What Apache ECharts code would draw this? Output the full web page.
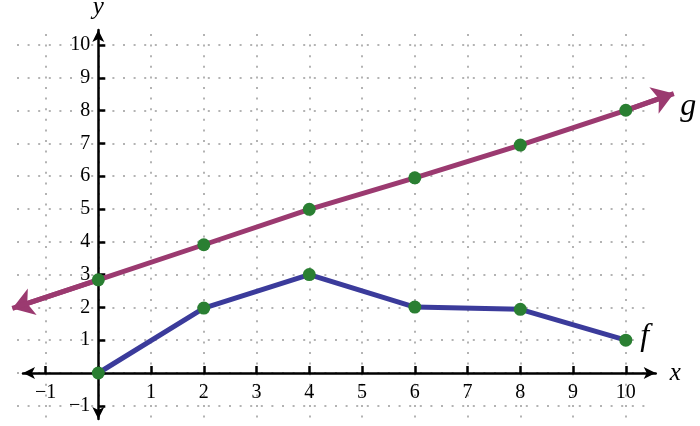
<!DOCTYPE html>
<html>
<head>
<meta charset="utf-8">
<script src="https://cdn.jsdelivr.net/npm/echarts@6/dist/echarts.min.js"></script>
<style>
html,body{margin:0;padding:0;background:#fff;}
#c{width:700px;height:426px;}
</style>
</head>
<body>
<div id="c"></div>
<script>
// ---- data ----
const xTickMin = -1, xTickMax = 10;
const yTickMin = -1, yTickMax = 10;
const fX = [0, 2, 4, 6, 8, 10];
const fY = [0, 1.98, 3.0, 2.01, 1.94, 1.0];
const gX = [0, 2, 4, 6, 8, 10];
const gY = [2.84, 3.91, 4.99, 5.95, 6.95, 8.01];
const gStart = [-1.63, 1.97];   // where g's left arrowhead sits
const gEnd = [10.91, 8.52];     // where g's right arrowhead sits
const fName = 'f', gName = 'g';
const xName = 'x', yName = 'y';

// ---- layout (pixels) ----
const O = {x: 98.3, y: 373};      // pixel of the origin
const U = {x: 52.75, y: 32.8};    // pixels per unit
function xr(l, r) { return {min: (l - O.x) / U.x, max: (r - O.x) / U.x}; }
function yr(t, b) { return {min: (O.y - b) / U.y, max: (O.y - t) / U.y}; }
function gridFor(xrange, yrange) {
  return {
    left: O.x + xrange.min * U.x,
    width: (xrange.max - xrange.min) * U.x,
    top: O.y - yrange.max * U.y,
    height: (yrange.max - yrange.min) * U.y,
    containLabel: false,
    outerBoundsMode: 'none'
  };
}

const FONT = '"Liberation Serif", "DejaVu Serif", serif';
const PURPLE = '#9b3a70', BLUE = '#3b3b9b', GREEN = '#2a7f32';
const DOT = {color: '#9a9a9a', width: 1.5, type: [2, 8.6]};

const x0 = xr(23, 655.7), y0 = yr(30, 419);          // axis lines
const x1 = {min: xTickMin, max: xTickMax}, y1 = yr(34, 426);   // vertical grid lines
const x2 = xr(17, 652), y2 = {min: yTickMin, max: yTickMax};   // horizontal grid lines

const fmt = v => v === 0 ? '' : (v < 0 ? '\u2212' + (-v) : String(v));
const labelStyle = {fontFamily: FONT, fontSize: 20, color: '#000', formatter: fmt};
const tickStyle = {show: true, inside: true, length: 7, lineStyle: {color: '#000', width: 2.5}};

const last = fX.length - 1;
const fPts = fX.map((x, i) => [x, fY[i]]);
const gPts = gX.map((x, i) => [x, gY[i]]);

const nameTxt = {fontFamily: FONT, fontStyle: 'italic', fontSize: 25, color: '#000'};
const curveLbl = {show: true, position: 'right', fontFamily: FONT, fontStyle: 'italic', fontSize: 32, color: '#000'};

const option = {
  animation: false,
  backgroundColor: '#fff',
  grid: [gridFor(x0, y0), gridFor(x1, y1), gridFor(x2, y2)],
  xAxis: [
    {gridIndex: 0, type: 'value', min: x0.min, max: x0.max,
     axisLine: {show: true, onZero: true, symbol: ['arrow', 'arrow'], symbolSize: [9, 12], lineStyle: {color: '#000', width: 2.5}},
     axisTick: {show: false}, axisLabel: {show: false}, splitLine: {show: false},
     name: xName, nameLocation: 'end', nameGap: 14, nameTextStyle: nameTxt},
    // ticks, labels and vertical grid lines; axis moved up onto y = 0
    {gridIndex: 1, type: 'value', min: x1.min, max: x1.max, interval: 1,
     position: 'bottom', offset: y1.min * U.y,
     axisLine: {show: false, onZero: false}, axisTick: tickStyle,
     axisLabel: Object.assign({margin: 10}, labelStyle),
     splitLine: {show: true, lineStyle: DOT}},
    {gridIndex: 2, type: 'value', min: x2.min, max: x2.max, show: false}
  ],
  yAxis: [
    {gridIndex: 0, type: 'value', min: y0.min, max: y0.max,
     axisLine: {show: true, onZero: true, symbol: ['arrow', 'arrow'], symbolSize: [9, 12], lineStyle: {color: '#000', width: 2.5}},
     axisTick: {show: false}, axisLabel: {show: false}, splitLine: {show: false},
     name: yName, nameLocation: 'end', nameGap: 10, nameTextStyle: nameTxt},
    {gridIndex: 1, type: 'value', min: y1.min, max: y1.max, show: false},
    // ticks, labels and horizontal grid lines; axis moved right onto x = 0
    {gridIndex: 2, type: 'value', min: y2.min, max: y2.max, interval: 1,
     position: 'left', offset: x2.min * U.x,
     axisLine: {show: false, onZero: false}, axisTick: tickStyle,
     axisLabel: Object.assign({margin: 8}, labelStyle),
     splitLine: {show: true, lineStyle: DOT}}
  ],
  series: [
    {type: 'line', name: fName, xAxisIndex: 0, yAxisIndex: 0, data: fPts, clip: false,
     symbol: 'none', lineStyle: {color: BLUE, width: 5}, z: 3},
    {type: 'line', name: gName, xAxisIndex: 0, yAxisIndex: 0, data: [gStart].concat(gPts, [gEnd]), clip: false,
     symbol: 'none', lineStyle: {color: PURPLE, width: 5}, z: 3},
    {type: 'lines', coordinateSystem: 'cartesian2d', xAxisIndex: 0, yAxisIndex: 0, clip: false,
     symbol: ['none', 'arrow'], symbolSize: [18, 21],
     lineStyle: {color: PURPLE, width: 5, opacity: 1}, z: 3, silent: true,
     data: [{coords: [gPts[0], gStart]}, {coords: [gPts[gPts.length - 1], gEnd]}]},
    {type: 'scatter', xAxisIndex: 0, yAxisIndex: 0, clip: false, symbolSize: 13, z: 5,
     itemStyle: {color: GREEN, opacity: 1},
     data: fPts.map((p, i) => i === last
       ? {value: p, label: Object.assign({}, curveLbl, {formatter: fName, distance: 8, offset: [0, -4]})}
       : {value: p})},
    {type: 'scatter', xAxisIndex: 0, yAxisIndex: 0, clip: false, symbolSize: 13, z: 5,
     itemStyle: {color: GREEN, opacity: 1},
     data: gPts.map((p, i) => i === gPts.length - 1
       ? {value: p, label: Object.assign({}, curveLbl, {formatter: gName, distance: 48, offset: [0, -4]})}
       : {value: p})}
  ]
};

const chart = echarts.init(document.getElementById('c'), null, {renderer: 'canvas'});
chart.setOption(option);
</script>
</body>
</html>
